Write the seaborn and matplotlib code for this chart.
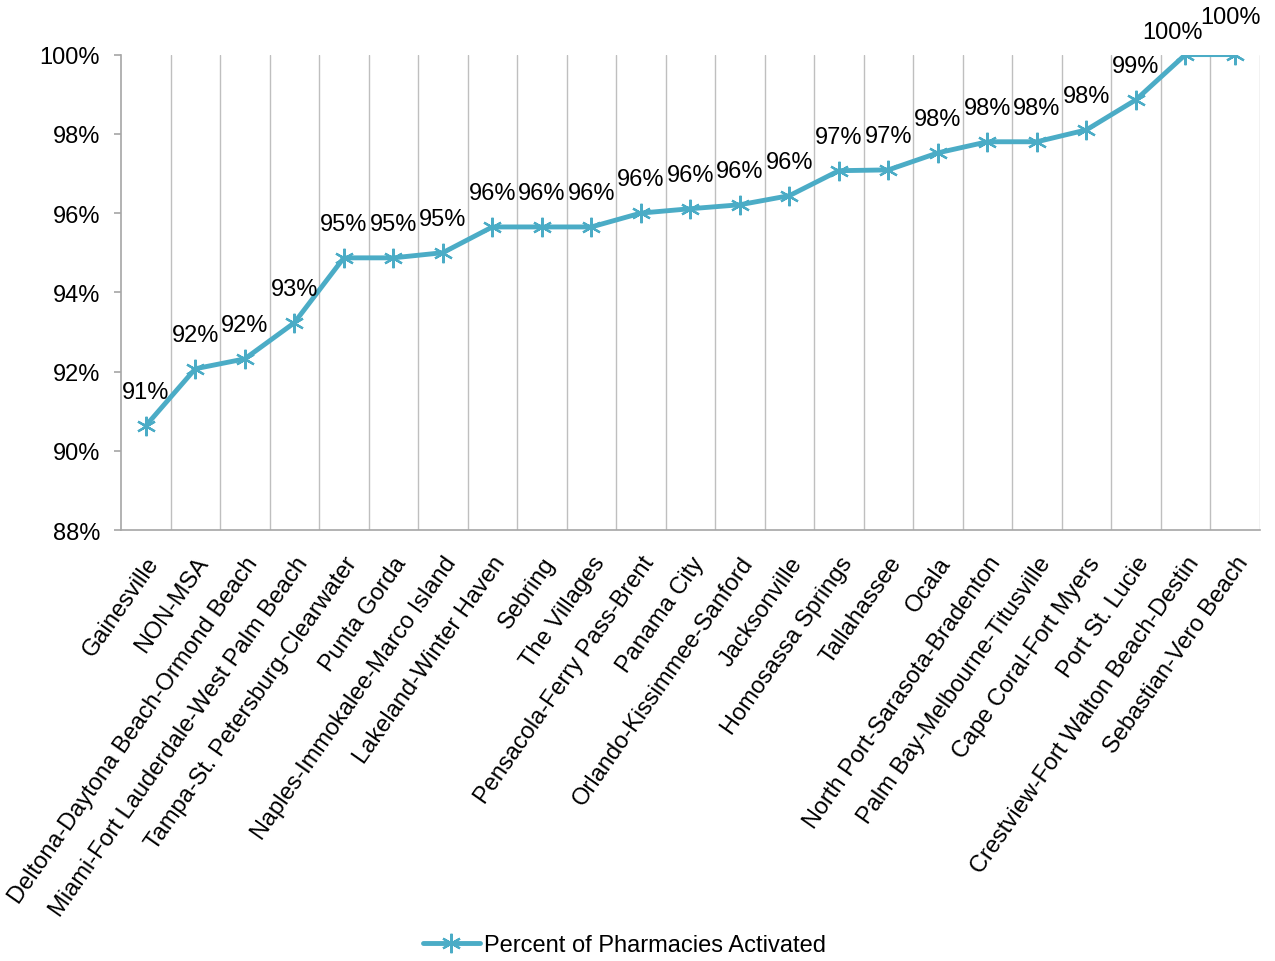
import numpy as np
import pandas as pd
import seaborn as sns
import matplotlib.pyplot as plt
from matplotlib.ticker import FuncFormatter

# data
cities = [
    "Gainesville", "NON-MSA", "Deltona-Daytona Beach-Ormond Beach",
    "Miami-Fort Lauderdale-West Palm Beach", "Tampa-St. Petersburg-Clearwater",
    "Punta Gorda", "Naples-Immokalee-Marco Island", "Lakeland-Winter Haven",
    "Sebring", "The Villages", "Pensacola-Ferry Pass-Brent", "Panama City",
    "Orlando-Kissimmee-Sanford", "Jacksonville", "Homosassa Springs",
    "Tallahassee", "Ocala", "North Port-Sarasota-Bradenton",
    "Palm Bay-Melbourne-Titusville", "Cape Coral-Fort Myers", "Port St. Lucie",
    "Crestview-Fort Walton Beach-Destin", "Sebastian-Vero Beach",
]
pct_activated = [
    90.63, 92.07, 92.32, 93.23, 94.87, 94.87, 95.00, 95.65, 95.65, 95.65,
    96.00, 96.11, 96.21, 96.44, 97.07, 97.09, 97.52, 97.80, 97.80, 98.10,
    98.86, 100.0, 100.0,
]
y_ticks = [88, 90, 92, 94, 96, 98, 100]
series_name = "Percent of Pharmacies Activated"

df = pd.DataFrame({"city": cities, "pct": pct_activated})

sns.set_theme(style="white")
plt.rcParams["font.family"] = ["Liberation Sans", "DejaVu Sans"]
plt.rcParams["text.color"] = "black"
plt.rcParams["xtick.labelcolor"] = "black"
plt.rcParams["ytick.labelcolor"] = "black"
fs = 17
color = "#4BACC6"

fig = plt.figure(figsize=(12.75, 9.62), dpi=100)
ax = fig.add_axes([0.0949, 0.448, 0.8931, 0.4942])

x_pos = np.arange(len(df))
sns.lineplot(x=x_pos, y=df["pct"], ax=ax, color=color, linewidth=3.5,
             marker=(6, 2, 0), markersize=14, markeredgewidth=1.6,
             markeredgecolor=color, label=series_name, legend=False)

# the two 100% labels are nudged apart, as in the original
label_offsets = {21: (-9, 16), 22: (-3, 27)}
for i, v in enumerate(df["pct"]):
    off = label_offsets.get(i, (0, 24.5))
    ax.annotate(f"{v:.0f}%", (i, v), xytext=off, textcoords="offset points",
                ha="center", va="center", fontsize=fs, color="black",
                annotation_clip=False)

ax.set_xlim(-0.5, len(df) - 0.5)
ax.set_ylim(88, 100)
ax.set_yticks(y_ticks)
ax.yaxis.set_major_formatter(FuncFormatter(lambda v, p: f"{v:.0f}%"))
ax.set_xticks(x_pos)
ax.set_xticklabels(df["city"], rotation=55, ha="right", rotation_mode="anchor",
                   fontsize=fs)
ax.tick_params(axis="y", labelsize=fs, left=True, length=5, width=1.2,
               color="#A6A6A6", pad=10)
ax.tick_params(axis="x", bottom=False, pad=10)
ax.set_xlabel("")
ax.set_ylabel("")

# vertical separators between categories
for b in np.arange(0.5, len(df), 1.0):
    ax.axvline(b, color="#BFBFBF", linewidth=1.0, zorder=0)

for s in ["top", "right"]:
    ax.spines[s].set_visible(False)
for s in ["left", "bottom"]:
    ax.spines[s].set_color("#A6A6A6")
    ax.spines[s].set_linewidth(1.2)

handles, labels = ax.get_legend_handles_labels()
fig.legend(handles, labels, loc="center", bbox_to_anchor=(0.49, 0.0166),
           frameon=False, fontsize=fs, handlelength=2.4, handletextpad=0.2)

fig.savefig("out.png", dpi=100, facecolor="white")
